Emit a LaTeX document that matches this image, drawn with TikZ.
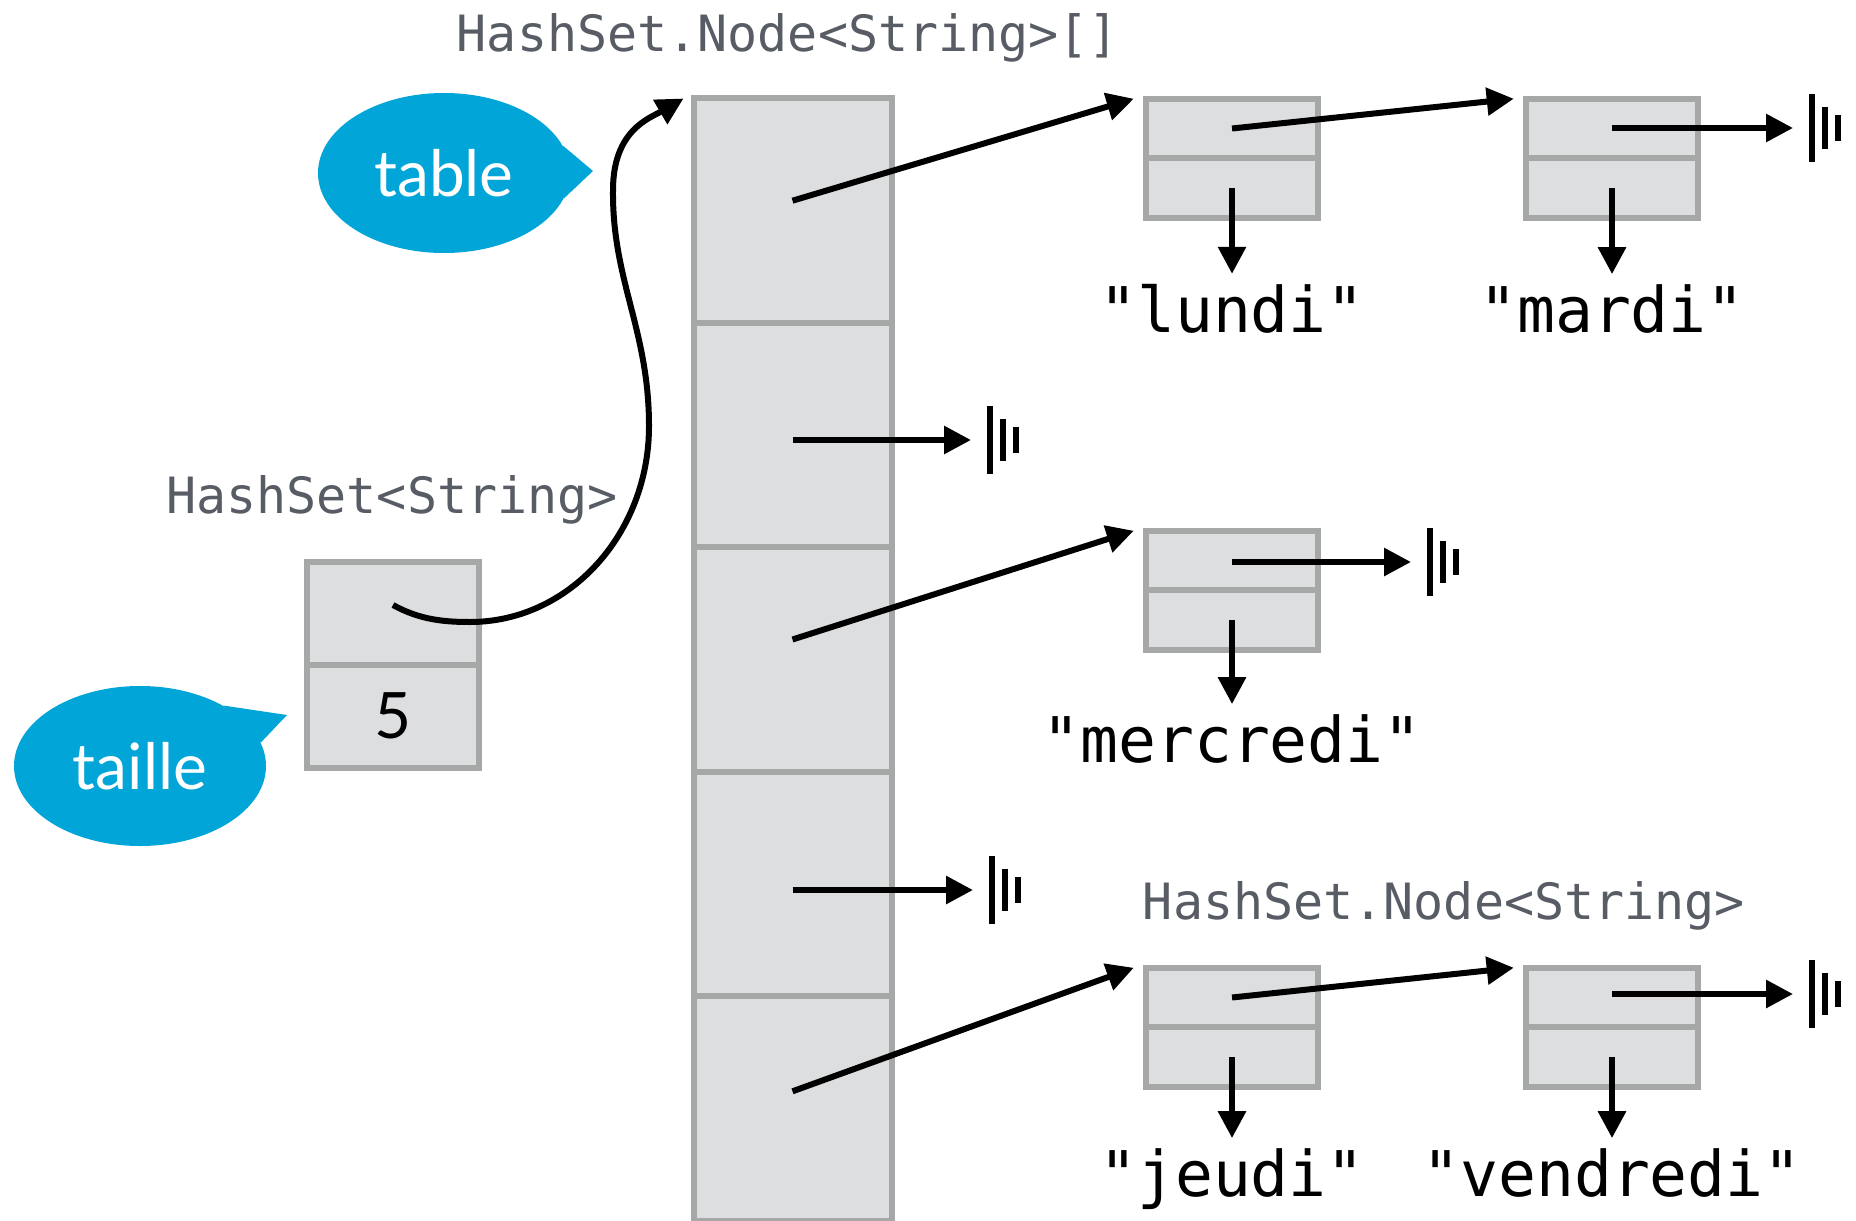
\documentclass[tikz,border=0pt]{standalone}
\usepackage{fontspec}
\setmainfont{Lato}
\setmonofont{DejaVu Sans Mono}
\usetikzlibrary{positioning,shapes.geometric,arrows.meta}
\definecolor{boxfill}{RGB}{221,222,224}
\definecolor{boxline}{RGB}{166,168,168}
\definecolor{typegray}{RGB}{88,92,100}
\definecolor{bubbleblue}{RGB}{2,165,216}
\newcommand{\nullref}[1]{%
	\draw[bar] ([xshift=9.5pt]#1) +(0,-34) -- +(0,34);
	\draw[bar] ([xshift=16pt]#1) +(0,-21) -- +(0,21);
	\draw[bar] ([xshift=22.5pt]#1) +(0,-13) -- +(0,13);}

\begin{document}
\begin{tikzpicture}[x=0.5pt, y=-0.5pt,
		cell/.style={draw=boxline, fill=boxfill, line width=3pt, inner sep=0pt, outer sep=0pt, minimum width=99pt, minimum height=112.2pt},
		fld/.style={cell, minimum width=86.25pt, minimum height=29.75pt},
		slot/.style={cell, minimum width=86pt, minimum height=51.5pt},
		ptr/.style={line width=3pt, -{Triangle[length=13.5pt,width=13.5pt]}},
		bar/.style={line width=2.7pt},
		typ/.style={font=\ttfamily\fontsize{25}{30}\selectfont, text=typegray, anchor=base, inner sep=0pt},
		str/.style={font=\ttfamily\fontsize{31.5}{38}\selectfont, anchor=base, inner sep=0pt, outer sep=5pt},
		bubble/.style={ellipse, fill=bubbleblue, text=white, font=\fontsize{32}{38}\selectfont, minimum width=126pt, minimum height=80pt, inner sep=0pt}]
			\useasboundingbox (0,0) rectangle (1856,1220);

			% Type labels
			\node[typ] (tarr) at (788,52) {HashSet.Node<String>[]};
			\node[typ] (tset) at (392,513) {HashSet<String>};
			\node[typ] (tnode) at (1444,919) {HashSet.Node<String>};

			% HashSet object
			\node[slot] (hsa) at (393,613) {};
			\node[slot, below=0pt of hsa, font=\fontsize{32}{38}\selectfont] (hsb) {5};

			% Array of buckets
			\node[cell] (c0) at (792.5,210.7) {};
			\node[cell, below=0pt of c0] (c1) {};
			\node[cell, below=0pt of c1] (c2) {};
			\node[cell, below=0pt of c2] (c3) {};
			\node[cell, below=0pt of c3] (c4) {};

			% Nodes
			\node[fld] (n1a) at (1232,128.5) {};
			\node[fld, below=0pt of n1a] (n1b) {};
			\node[fld] (n2a) at (1612,128.5) {};
			\node[fld, below=0pt of n2a] (n2b) {};
			\node[fld] (n3a) at (1232,560.5) {};
			\node[fld, below=0pt of n3a] (n3b) {};
			\node[fld] (n4a) at (1232,997.5) {};
			\node[fld, below=0pt of n4a] (n4b) {};
			\node[fld] (n5a) at (1612,997.5) {};
			\node[fld, below=0pt of n5a] (n5b) {};

			% Strings
			\node[str] (s1) at (1232,332) {"lundi"};
			\node[str] (s2) at (1612,332) {"mardi"};
			\node[str] (s3) at (1232,762) {"mercredi"};
			\node[str] (s4) at (1232,1196) {"jeudi"};
			\node[str] (s5) at (1612,1196) {"vendredi"};

			% Bubbles
			\node[bubble] (btable) at (444,173) {table};
			\coordinate (btabletip) at (593,171);
			\fill[bubbleblue] (btable.13) -- (btabletip) -- (btable.-12) -- cycle;
			\node[bubble] (btaille) at (140,766) {taille};
			\coordinate (btailletip) at (287,715);
			\fill[bubbleblue] (btaille.36) -- (btailletip) -- (btaille.11) -- cycle;

			% Null ends
			\coordinate (nc1) at (971,440);
			\coordinate (nc3) at (973,890);
			\coordinate (nn2) at (1793,128);
			\coordinate (nn3) at (1411,562);
			\coordinate (nn5) at (1793,994);

			% Pointers
			\draw[ptr] ([yshift=4pt]hsa.center) .. controls (420,620) and (445,622) .. (470,622)
				.. controls (569,622) and (649,534) .. (649,426)
				.. controls (649,330) and (612,280) .. (613,190)
				.. controls (613,130) and (650,118) .. ([xshift=-5pt]c0.north west);
			\draw[ptr] ([yshift=5pt]c0.center) -- ([xshift=-6pt]n1a.north west);
			\draw[ptr] (c1.center |- nc1) -- (nc1);
			\draw[ptr] ([yshift=10pt]c2.center) -- ([xshift=-6pt]n3a.north west);
			\draw[ptr] (c3.center |- nc3) -- (nc3);
			\draw[ptr] ([yshift=8.5pt]c4.center) -- ([xshift=-6pt]n4a.north west);
			\draw[ptr] (n1a.center) -- ([xshift=-6pt]n2a.north west);
			\draw[ptr] (n2a.center |- nn2) -- (nn2);
			\draw[ptr] (n3a.center |- nn3) -- (nn3);
			\draw[ptr] (n4a.center) -- ([xshift=-6pt]n5a.north west);
			\draw[ptr] (n5a.center |- nn5) -- (nn5);
			\draw[ptr] (n1b.center) -- (n1b.center |- s1.north);
			\draw[ptr] (n2b.center) -- (n2b.center |- s2.north);
			\draw[ptr] (n3b.center) -- (n3b.center |- s3.north);
			\draw[ptr] (n4b.center) -- (n4b.center |- s4.north);
			\draw[ptr] (n5b.center) -- (n5b.center |- s5.north);

			% Null symbols
			\nullref{nc1}
			\nullref{nc3}
			\nullref{nn2}
			\nullref{nn3}
			\nullref{nn5}
		\end{tikzpicture}
\end{document}
